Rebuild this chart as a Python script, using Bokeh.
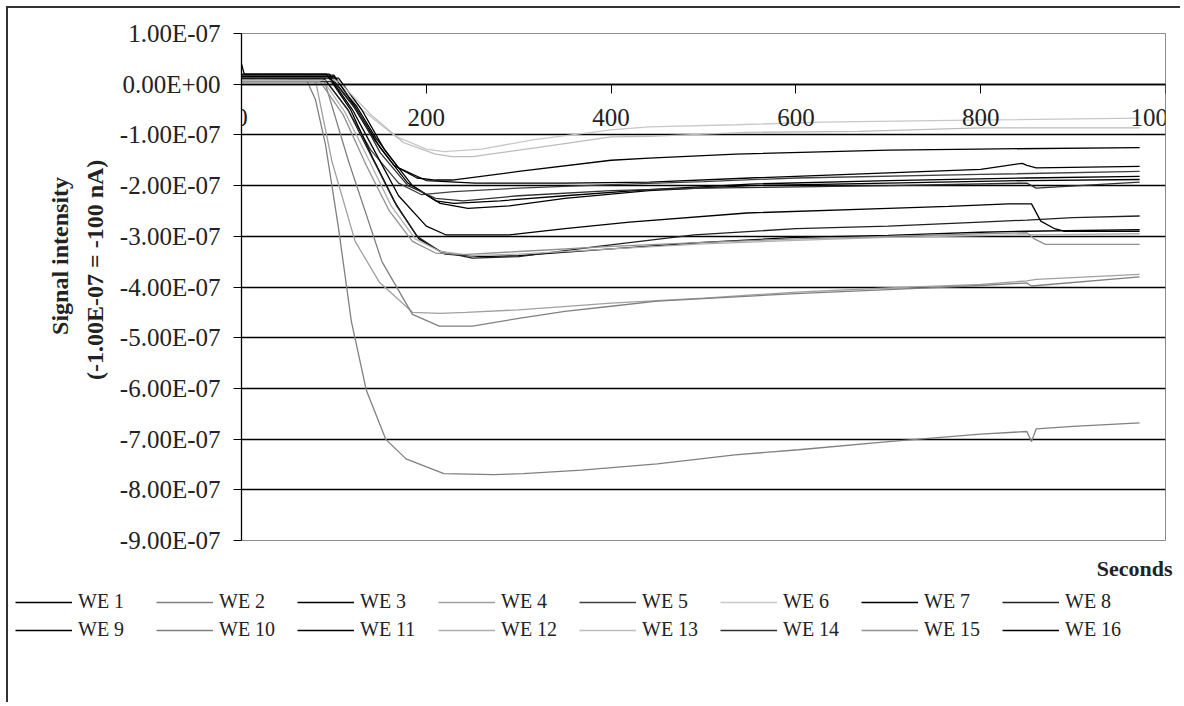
import math
from bokeh.plotting import figure
from bokeh.layouts import column, row
from bokeh.models import (Range1d, FixedTicker, CustomJSTickFormatter, Legend, LegendItem, Label)
from bokeh.embed import file_html
from bokeh.resources import INLINE

# ---- data (signal in units of 1e-7 A, time in seconds) ----
SCALE = 1e-7
x_ticks = [0, 200, 400, 600, 800, 1000]
y_ticks = [-9, -8, -7, -6, -5, -4, -3, -2, -1, 0, 1]

t_we1 = [0, 95, 120, 140, 165, 190, 210, 228, 300, 400, 441, 535, 700, 797, 972]
v_we1 = [0.2, 0.2, -0.4, -1.0, -1.6, -1.85, -1.89, -1.89, -1.72, -1.5, -1.46, -1.38, -1.3, -1.28, -1.25]

t_we2 = [0, 70, 80, 91, 105, 119, 135, 156, 178, 219, 273, 305, 368, 450, 534, 603, 700, 800, 850, 855, 860, 900, 972]
v_we2 = [0.1, 0.1, -0.3, -1.2, -2.84, -4.69, -6.03, -7.0, -7.39, -7.68, -7.7, -7.68, -7.61, -7.49, -7.31, -7.21, -7.05, -6.9, -6.85, -7.05, -6.8, -6.75, -6.68]

t_we3 = [0, 100, 125, 145, 170, 200, 253, 350, 442, 550, 700, 800, 845, 850, 860, 972]
v_we3 = [0.15, 0.15, -0.45, -1.05, -1.65, -1.9, -1.95, -1.95, -1.93, -1.85, -1.75, -1.68, -1.56, -1.6, -1.65, -1.62]

t_we4 = [0, 80, 98, 123, 149, 185, 215, 243, 300, 400, 500, 600, 700, 800, 850, 860, 972]
v_we4 = [0.08, 0.08, -1.53, -3.1, -3.9, -4.5, -4.52, -4.5, -4.45, -4.32, -4.22, -4.1, -4.02, -3.95, -3.88, -3.85, -3.75]

t_we5 = [0, 90, 115, 140, 170, 195, 230, 300, 400, 500, 600, 800, 972]
v_we5 = [0.1, 0.1, -0.5, -1.3, -1.95, -2.18, -2.12, -2.05, -1.98, -1.92, -1.85, -1.78, -1.72]

t_we6 = [0, 100, 130, 167, 200, 219, 260, 315, 400, 441, 535, 628, 789, 972]
v_we6 = [0.12, 0.1, -0.5, -1.03, -1.28, -1.33, -1.28, -1.1, -0.9, -0.84, -0.8, -0.75, -0.71, -0.67]

t_we7 = [0, 3, 92, 118, 142, 168, 192, 220, 260, 300, 400, 500, 600, 700, 800, 850, 972]
v_we7 = [0.4, 0.2, 0.2, -0.5, -1.45, -2.4, -3.05, -3.35, -3.4, -3.38, -3.25, -3.12, -3.02, -2.98, -2.92, -2.9, -2.87]

t_we8 = [0, 90, 115, 140, 165, 190, 215, 250, 300, 386, 490, 600, 700, 800, 850, 900, 972]
v_we8 = [0.1, 0.1, -0.5, -1.4, -2.3, -3.0, -3.3, -3.43, -3.4, -3.2, -2.97, -2.85, -2.8, -2.72, -2.68, -2.63, -2.6]

t_we9 = [0, 100, 125, 150, 180, 210, 230, 280, 350, 441, 550, 700, 850, 972]
v_we9 = [0.18, 0.18, -0.5, -1.25, -1.95, -2.3, -2.35, -2.3, -2.2, -2.08, -1.97, -1.9, -1.85, -1.82]

t_we10 = [0, 90, 116, 152, 185, 214, 250, 300, 350, 400, 450, 600, 700, 800, 850, 855, 972]
v_we10 = [0.05, 0.05, -1.53, -3.5, -4.54, -4.77, -4.77, -4.62, -4.48, -4.38, -4.28, -4.13, -4.05, -3.97, -3.92, -3.98, -3.8]

t_we11 = [0, 105, 130, 155, 185, 215, 245, 290, 350, 441, 550, 700, 850, 972]
v_we11 = [0.12, 0.12, -0.5, -1.3, -2.0, -2.35, -2.45, -2.4, -2.25, -2.1, -2.0, -1.95, -1.9, -1.88]

t_we12 = [0, 88, 112, 138, 162, 188, 215, 250, 300, 400, 500, 600, 700, 850, 972]
v_we12 = [0.08, 0.08, -0.55, -1.5, -2.4, -3.05, -3.3, -3.38, -3.35, -3.25, -3.15, -3.08, -3.02, -2.97, -2.95]

t_we13 = [0, 105, 140, 175, 210, 228, 250, 320, 400, 441, 547, 668, 800, 972]
v_we13 = [0.08, 0.06, -0.6, -1.15, -1.38, -1.43, -1.43, -1.25, -1.04, -1.03, -0.95, -0.93, -0.86, -0.86]

t_we14 = [0, 100, 128, 150, 180, 210, 240, 300, 400, 500, 700, 850, 860, 972]
v_we14 = [0.05, 0.05, -0.6, -1.35, -2.0, -2.25, -2.3, -2.2, -2.1, -2.05, -2.0, -1.95, -2.05, -1.93]

t_we15 = [0, 85, 110, 135, 160, 185, 210, 240, 300, 400, 500, 600, 700, 800, 850, 858, 870, 972]
v_we15 = [0.05, 0.05, -0.6, -1.6, -2.5, -3.1, -3.33, -3.36, -3.3, -3.2, -3.12, -3.05, -3.0, -2.95, -2.93, -3.05, -3.16, -3.16]

t_we16 = [0, 95, 120, 145, 170, 200, 221, 290, 350, 420, 547, 700, 765, 830, 855, 865, 880, 890, 972]
v_we16 = [0.15, 0.15, -0.5, -1.35, -2.2, -2.8, -2.97, -2.97, -2.85, -2.72, -2.54, -2.45, -2.41, -2.36, -2.36, -2.7, -2.85, -2.9, -2.9]

series_names = [f"WE {i}" for i in range(1, 17)]
series_t = [t_we1, t_we2, t_we3, t_we4, t_we5, t_we6, t_we7, t_we8,
            t_we9, t_we10, t_we11, t_we12, t_we13, t_we14, t_we15, t_we16]
series_v = [v_we1, v_we2, v_we3, v_we4, v_we5, v_we6, v_we7, v_we8,
            v_we9, v_we10, v_we11, v_we12, v_we13, v_we14, v_we15, v_we16]
series_colors = ["#000000", "#808080", "#000000", "#a0a0a0", "#404040", "#c8c8c8", "#000000", "#202020",
                 "#000000", "#808080", "#000000", "#b0b0b0", "#bcbcbc", "#303030", "#909090", "#000000"]

SERIF = "Liberation Serif"
TXT = "#222222"
BORDER = "2px solid #333333"

# ---------- left strip: y-axis title ----------
TW, TH = 102, 547
tf = figure(width=TW, height=TH, output_backend="svg", toolbar_location=None,
            x_range=Range1d(0, TW), y_range=Range1d(TH, 0),
            min_border=0, x_axis_location=None, y_axis_location=None)
tf.outline_line_color = None
tf.grid.visible = False
tf.styles = {"border-left": BORDER, "border-top": BORDER}
tf.margin = (6, 0, 0, 6)
tf.add_layout(Label(x=51, y=240, text="Signal intensity", angle=math.pi / 2,
                    text_align="center", text_baseline="middle", text_font=SERIF,
                    text_font_size="24px", text_font_style="bold", text_color=TXT))
tf.add_layout(Label(x=86, y=255, text="(-1.00E-07 = -100 nA)", angle=math.pi / 2,
                    text_align="center", text_baseline="middle", text_font=SERIF,
                    text_font_size="24px", text_font_style="bold", text_color=TXT))

# ---------- main chart ----------
p = figure(width=1072, height=547, output_backend="svg", toolbar_location=None,
           x_range=Range1d(0, 1000), y_range=Range1d(-9 * SCALE, 1 * SCALE),
           min_border_left=133, min_border_right=15, min_border_top=25, min_border_bottom=15,
           background_fill_color="white", border_fill_color="white")
p.styles = {"border-top": BORDER}
p.margin = (6, 0, 0, 0)
p.outline_line_color = "#8c8c8c"
p.outline_line_width = 1

p.xgrid.visible = False
p.ygrid.ticker = FixedTicker(ticks=[v * SCALE for v in y_ticks[1:-1]])
p.ygrid.grid_line_color = "black"
p.ygrid.grid_line_width = 1.3

ya = p.yaxis[0]
ya.ticker = FixedTicker(ticks=[v * SCALE for v in y_ticks])
ya.formatter = CustomJSTickFormatter(code="""
const s = tick.toExponential(2);
const parts = s.split('e');
const e = parts[1];
let d = e.slice(1);
if (d.length < 2) d = '0' + d;
return parts[0] + 'E' + e[0] + d;
""")
ya.axis_line_color = "black"
ya.axis_line_width = 1.3
ya.major_tick_out = 8
ya.major_tick_in = 0
ya.minor_tick_out = 0
ya.minor_tick_in = 0
ya.major_label_text_font = SERIF
ya.major_label_text_font_size = "25px"
ya.major_label_text_color = TXT
ya.major_label_standoff = 13

xa = p.xaxis[0]
xa.fixed_location = 0
xa.ticker = FixedTicker(ticks=x_ticks)
xa.axis_line_color = "black"
xa.axis_line_width = 1.3
xa.major_tick_out = 9
xa.major_tick_in = 0
xa.minor_tick_out = 0
xa.minor_tick_in = 0
xa.major_label_text_font = SERIF
xa.major_label_text_font_size = "25px"
xa.major_label_text_color = TXT
xa.major_label_standoff = 16

for name, tt, vv, col in zip(series_names, series_t, series_v, series_colors):
    p.line(tt, [v * SCALE for v in vv], line_color=col, line_width=1.3)

# ---------- bottom strip: x title + legend ----------
LW, LH = 1174, 149
lf = figure(width=LW, height=LH, output_backend="svg", toolbar_location=None,
            x_range=Range1d(0, LW), y_range=Range1d(LH, 0),
            min_border=0, x_axis_location=None, y_axis_location=None)
lf.outline_line_color = None
lf.grid.visible = False
lf.styles = {"border-left": BORDER}
lf.margin = (0, 0, 0, 6)
lf.add_layout(Label(x=1164, y=15, text="Seconds", text_align="right", text_baseline="middle",
                    text_font=SERIF, text_font_size="22px", text_font_style="bold", text_color=TXT))

items = []
for name, col in zip(series_names, series_colors):
    # legend-key renderers only (kept outside the visible range of this strip)
    r = lf.line([-20, -10], [-20, -20], line_color=col, line_width=1.3)
    items.append(LegendItem(label=name, renderers=[r]))

legend = Legend(items=items, location=(7, 61), orientation="horizontal", ncols=8,
                glyph_width=57, glyph_height=20, label_height=20, label_width=73,
                label_standoff=6, spacing=5, padding=0, margin=0,
                border_line_alpha=0, background_fill_alpha=0,
                label_text_font=SERIF, label_text_font_size="20px", label_text_color=TXT)
lf.add_layout(legend, "center")

layout = column(row(tf, p, spacing=0), lf, spacing=0)
open("out.html", "w").write(file_html(layout, INLINE))
